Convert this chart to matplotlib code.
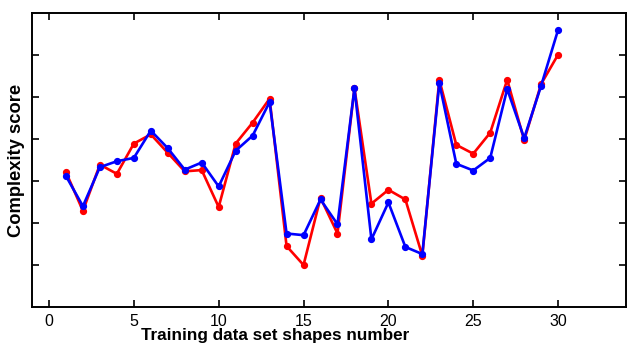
import matplotlib
matplotlib.use("Agg")
import matplotlib.pyplot as plt

plt.rcParams['font.family'] = ['Liberation Sans', 'DejaVu Sans']

# shape index on the x axis
shapes = list(range(1, 31))

# complexity scores (arbitrary units)
red_scores = [3.21, 2.29, 3.39, 3.17, 3.89, 4.11, 3.67, 3.23, 3.26, 2.38,
              3.89, 4.39, 4.96, 1.45, 1.00, 2.60, 1.75, 5.21, 2.46, 2.79,
              2.56, 1.22, 5.41, 3.86, 3.65, 4.15, 5.41, 3.97, 5.31, 6.01]
blue_scores = [3.12, 2.40, 3.33, 3.47, 3.55, 4.20, 3.78, 3.27, 3.44, 2.87,
               3.72, 4.08, 4.88, 1.75, 1.71, 2.56, 1.97, 5.21, 1.61, 2.49,
               1.43, 1.26, 5.33, 3.41, 3.25, 3.55, 5.19, 4.02, 5.27, 6.60]

xticks = [0, 5, 10, 15, 20, 25, 30]
yticks = [1, 2, 3, 4, 5, 6]

fig = plt.figure(figsize=(6.27, 3.44), dpi=100)
ax = fig.add_axes([32 / 627, 37 / 344, 594 / 627, 294 / 344])

# red series first, blue drawn on top
ax.plot(shapes, red_scores, color='#ff0000', lw=1.9, marker='o', ms=4.2)
ax.plot(shapes, blue_scores, color='#0000ff', lw=1.9, marker='o', ms=4.2)

ax.set_xlim(-1, 34)
ax.set_ylim(0, 7)
ax.set_xticks(xticks)
ax.set_yticks(yticks)
ax.set_yticklabels([])
ax.tick_params(direction='in', length=5, width=1.2, top=True, right=True,
               labelsize=11.5, pad=5)
for sp in ax.spines.values():
    sp.set_linewidth(1.4)

ax.set_xlabel("Training data set shapes number", fontsize=12.3, fontweight='bold')
ax.set_ylabel("Complexity score", fontsize=13.2, fontweight='bold')
ax.xaxis.set_label_coords(0.409, -0.07)
ax.yaxis.set_label_coords(-0.012, 0.5)

fig.savefig("out.png", dpi=100)
